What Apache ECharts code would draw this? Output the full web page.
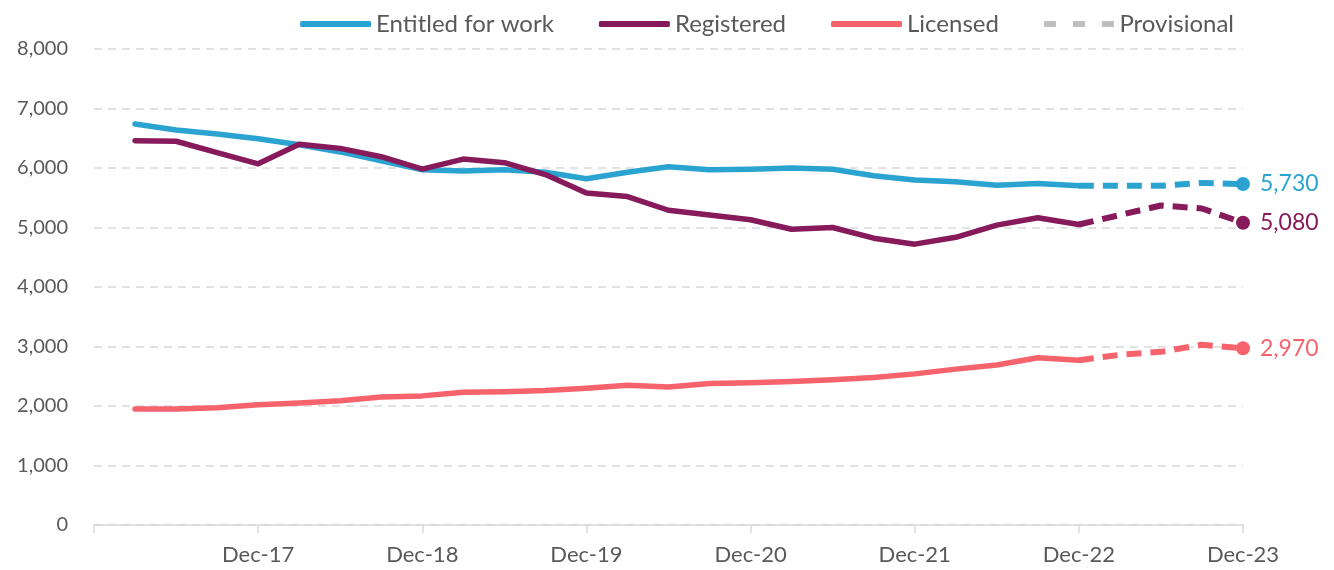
<!DOCTYPE html>
<html>
<head>
    <meta charset="utf-8">
    <title>Entitled, registered and licensed</title>
    <script src="https://cdn.jsdelivr.net/npm/echarts@6/dist/echarts.min.js"></script>
    <style>
        body { margin: 0; background: #fff; }
        #chart { width: 1334px; height: 570px; }
    </style>
</head>
<body>
    <div id="chart"></div>

    <script type="text/javascript">
        // quarters, Dec-16 is just the axis start (no data)
        var quarters = ['Dec-16',
            'Mar-17','Jun-17','Sep-17','Dec-17',
            'Mar-18','Jun-18','Sep-18','Dec-18',
            'Mar-19','Jun-19','Sep-19','Dec-19',
            'Mar-20','Jun-20','Sep-20','Dec-20',
            'Mar-21','Jun-21','Sep-21','Dec-21',
            'Mar-22','Jun-22','Sep-22','Dec-22',
            'Mar-23','Jun-23','Sep-23','Dec-23'];

        var entitled = [null,
            6740, 6640, 6570, 6490,
            6390, 6270, 6120, 5970,
            5950, 5970, 5930, 5820,
            5930, 6020, 5970, 5980,
            6000, 5980, 5870, 5800,
            5770, 5710, 5740, 5700,
            5700, 5700, 5750, 5730];

        var registered = [null,
            6460, 6450, 6260, 6070,
            6400, 6330, 6190, 5980,
            6150, 6090, 5890, 5580,
            5520, 5290, 5210, 5130,
            4970, 5000, 4820, 4720,
            4835, 5040, 5165, 5050,
            5210, 5370, 5320, 5080];

        var licensed = [null,
            1950, 1950, 1970, 2020,
            2050, 2090, 2150, 2170,
            2230, 2240, 2260, 2300,
            2350, 2320, 2380, 2390,
            2410, 2440, 2480, 2540,
            2620, 2690, 2810, 2770,
            2860, 2910, 3030, 2970];

        var provisionalFrom = 'Dec-22';
        var yTicks = [0, 1000, 2000, 3000, 4000, 5000, 6000, 7000, 8000];

        var colBlue = '#2AA3D0';
        var colPurple = '#861A5A';
        var colRed = '#F7636C';
        var colGrey = '#BFBFBF';
        var txt = '#595959';
        var font = 'Lato';

        var cut = quarters.indexOf(provisionalFrom);

        function solidPart(arr) {
            return arr.map(function (v, i) { return i <= cut ? v : null; });
        }
        function dashedPart(arr, color) {
            return arr.map(function (v, i) {
                if (i < cut) return null;
                if (i == arr.length - 1) {
                    return {
                        value: v,
                        symbol: 'circle',
                        symbolSize: 14,
                        label: {
                            show: true, position: 'right', distance: 10,
                            color: color, fontSize: 23, fontFamily: font,
                            formatter: function (p) { return p.value.toLocaleString('en-US'); }
                        }
                    };
                }
                return v;
            });
        }

        function solid(name, arr, color) {
            return {
                name: name, type: 'line', data: solidPart(arr),
                symbol: 'none', color: color, z: 3,
                itemStyle: { color: color },
                lineStyle: { width: 5.5, color: color, cap: 'round', join: 'round' }
            };
        }
        function dashed(name, arr, color) {
            return {
                name: name + ' (p)', type: 'line', data: dashedPart(arr, color),
                symbol: 'none', showSymbol: true, color: color, z: 3,
                itemStyle: { color: color },
                lineStyle: { width: 6, color: color, type: [15, 9] }
            };
        }

        var dashIcon = 'path://M0,0h12v6h-12z M29,0h12v6h-12z M58,0h12v6h-12z';

        var myChart = echarts.init(document.getElementById('chart'));

        option = {
            animation: false,
            backgroundColor: '#fff',
            textStyle: { fontFamily: font },
            legend: {
                data: [
                    { name: 'Entitled for work', icon: 'roundRect' },
                    { name: 'Registered', icon: 'roundRect' },
                    { name: 'Licensed', icon: 'roundRect' },
                    { name: 'Provisional', icon: dashIcon }
                ],
                top: 7, right: 95,
                itemWidth: 71, itemHeight: 6, itemGap: 45,
                textStyle: { color: txt, fontSize: 24, fontFamily: font }
            },
            grid: { left: 94, right: 91, top: 49, bottom: 45, containLabel: false },
            xAxis: {
                type: 'category', data: quarters, boundaryGap: false,
                axisLine: { lineStyle: { color: '#D9D9D9', width: 1.5 } },
                axisTick: {
                    show: true, length: 8, lineStyle: { color: '#D9D9D9', width: 1.5 },
                    interval: function (i) { return i % 4 == 0; }
                },
                axisLabel: {
                    color: txt, fontSize: 22, fontFamily: font, margin: 19,
                    interval: function (i) { return i % 4 == 0 && i > 0; }
                },
                splitLine: { show: false }
            },
            yAxis: {
                type: 'value', min: yTicks[0], max: yTicks[yTicks.length - 1], interval: 1000,
                axisLine: { show: false }, axisTick: { show: false },
                axisLabel: {
                    color: txt, fontSize: 20, fontFamily: font, margin: 26,
                    formatter: function (v) { return v.toLocaleString('en-US'); }
                },
                splitLine: { lineStyle: { color: '#D9D9D9', width: 1.5, type: [8, 6] } }
            },
            series: [
                solid('Entitled for work', entitled, colBlue),
                solid('Registered', registered, colPurple),
                solid('Licensed', licensed, colRed),
                dashed('Entitled for work', entitled, colBlue),
                dashed('Registered', registered, colPurple),
                dashed('Licensed', licensed, colRed),
                {
                    name: 'Provisional', type: 'line', data: [], symbol: 'none',
                    color: colGrey, itemStyle: { color: colGrey },
                    lineStyle: { width: 5, color: colGrey, type: [12, 9] }
                }
            ]
        };

        myChart.setOption(option);
    </script>
</body>
</html>
